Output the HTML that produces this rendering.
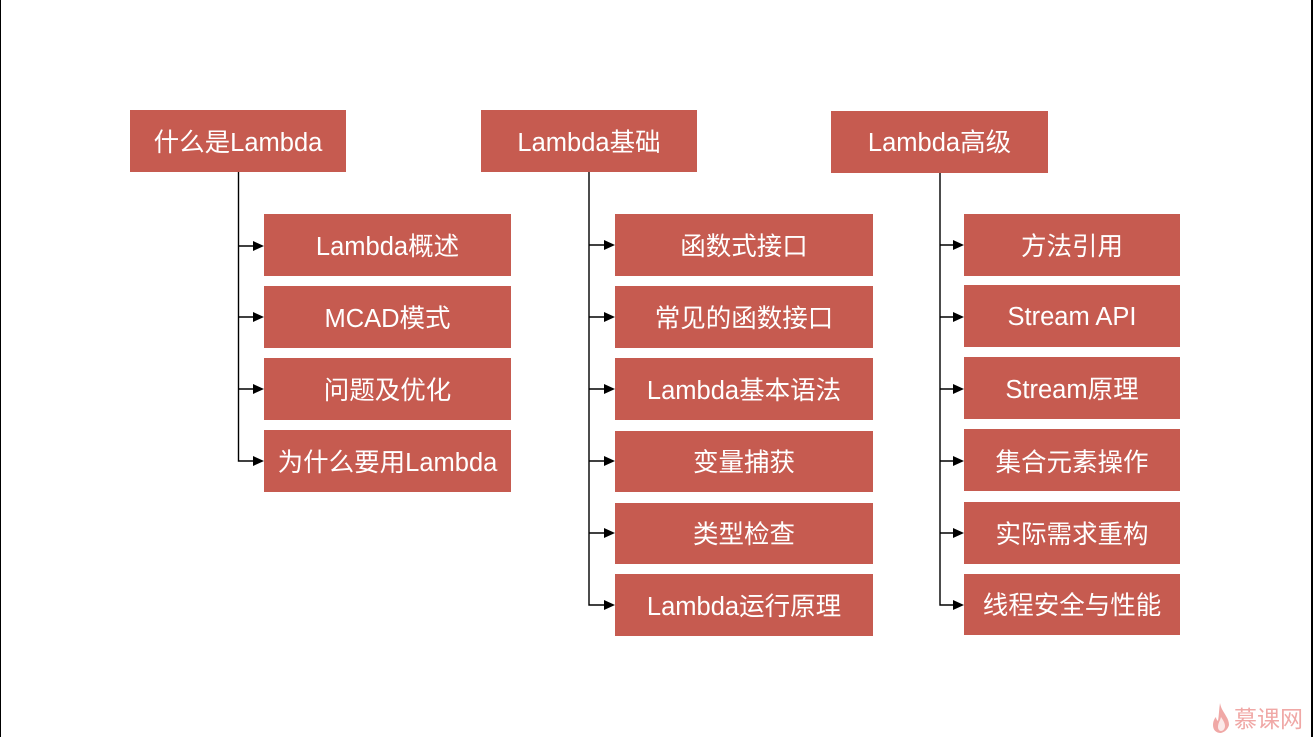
<!DOCTYPE html>
<html lang="zh">
<head>
<meta charset="utf-8">
<style>
html,body{margin:0;padding:0;background:#fff}
body{width:1313px;height:737px;position:relative;overflow:hidden;font-family:"Liberation Sans","Noto Sans CJK SC",sans-serif}
.b{position:absolute;background:#c65b50;color:#fff;display:flex;align-items:center;justify-content:center;font-size:25.5px;white-space:nowrap}
.b span{position:relative;top:-1px}
svg{position:absolute;left:0;top:0}
.logo{position:absolute;left:1234px;top:703px;font-size:23px;line-height:32px;color:#f0a8a6;white-space:nowrap}
</style>
</head>
<body>
<svg width="1313" height="737" viewBox="0 0 1313 737">
<rect x="0" y="0" width="1" height="737" fill="#000"/>
<rect x="1311" y="0" width="2" height="737" fill="#000"/>
<g stroke="#000" stroke-width="1.4" fill="none">
<path d="M238.5 172V461H254M238.5 246H254M238.5 317H254M238.5 389H254"/>
<path d="M589 172V605H605M589 245H605M589 317H605M589 389H605M589 461H605M589 533H605"/>
<path d="M940 173V605H954M940 245H954M940 317H954M940 389H954M940 461H954M940 533H954"/>
</g>
<g fill="#000">
<path d="M264 246l-11-5v10zM264 317l-11-5v10zM264 389l-11-5v10zM264 461l-11-5v10z"/>
<path d="M615 245l-11-5v10zM615 317l-11-5v10zM615 389l-11-5v10zM615 461l-11-5v10zM615 533l-11-5v10zM615 605l-11-5v10z"/>
<path d="M964 245l-11-5v10zM964 317l-11-5v10zM964 389l-11-5v10zM964 461l-11-5v10zM964 533l-11-5v10zM964 605l-11-5v10z"/>
</g>
<path d="M1220 703c1 6 4 9 6 13 2 3 3 6 3 9-1 4-4 7-8 8-5 0-8-3-8-8 0-3 1-6 3-8 0 2 1 3 2 4 1-6 1-12 2-18z" fill="#f0a8a6"/>
<path d="M1221 717c2 3 4 6 4 9 0 3-2 5-4 5s-3-2-3-4c0-4 2-6 3-10z" fill="#fff" opacity=".75"/>
</svg>

<div class="b" style="left:130px;top:110px;width:216px;height:62px"><span>什么是Lambda</span></div>
<div class="b" style="left:264px;top:214px;width:247px;height:62px"><span>Lambda概述</span></div>
<div class="b" style="left:264px;top:286px;width:247px;height:62px"><span>MCAD模式</span></div>
<div class="b" style="left:264px;top:358px;width:247px;height:62px"><span>问题及优化</span></div>
<div class="b" style="left:264px;top:430px;width:247px;height:62px"><span>为什么要用Lambda</span></div>

<div class="b" style="left:481px;top:110px;width:216px;height:62px"><span>Lambda基础</span></div>
<div class="b" style="left:615px;top:214px;width:258px;height:62px"><span>函数式接口</span></div>
<div class="b" style="left:615px;top:286px;width:258px;height:62px"><span>常见的函数接口</span></div>
<div class="b" style="left:615px;top:358px;width:258px;height:62px"><span>Lambda基本语法</span></div>
<div class="b" style="left:615px;top:431px;width:258px;height:61px"><span>变量捕获</span></div>
<div class="b" style="left:615px;top:503px;width:258px;height:61px"><span>类型检查</span></div>
<div class="b" style="left:615px;top:574px;width:258px;height:62px"><span>Lambda运行原理</span></div>

<div class="b" style="left:831px;top:111px;width:217px;height:62px"><span style="top:-2px">Lambda高级</span></div>
<div class="b" style="left:964px;top:214px;width:216px;height:62px"><span>方法引用</span></div>
<div class="b" style="left:964px;top:285px;width:216px;height:62px"><span style="top:1px">Stream API</span></div>
<div class="b" style="left:964px;top:357px;width:216px;height:62px"><span>Stream原理</span></div>
<div class="b" style="left:964px;top:429px;width:216px;height:62px"><span style="top:0">集合元素操作</span></div>
<div class="b" style="left:964px;top:502px;width:216px;height:62px"><span>实际需求重构</span></div>
<div class="b" style="left:964px;top:574px;width:216px;height:61px"><span>线程安全与性能</span></div>

<div class="logo">慕课网</div>
</body>
</html>
